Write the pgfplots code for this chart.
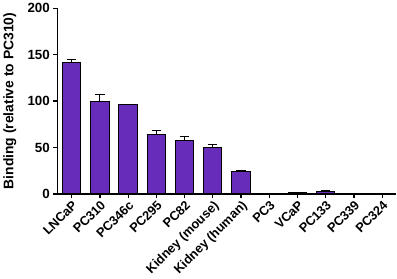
\documentclass[border=0pt]{standalone}
\usepackage{pgfplots}
\pgfplotsset{compat=1.18}
\usepackage{fontspec}
\setmainfont{Liberation Sans}
\definecolor{barpurple}{RGB}{104,44,186}
\begin{document}
\begin{tikzpicture}
\begin{axis}[
  scale only axis,
  width=330pt, height=181pt,
  xmin=-0.5, xmax=11.5,
  ymin=0, ymax=200,
  axis x line*=bottom, axis y line*=left,
  axis line style={line width=1.4pt},
  ytick={0,50,100,150,200},
  xtick={0,...,11},
  xticklabels={LNCaP,PC310,PC346c,PC295,PC82,Kidney (mouse),Kidney (human),PC3,VCaP,PC133,PC339,PC324},
  x tick label style={rotate=45, anchor=north east, font=\bfseries\fontsize{12.5}{14}\selectfont, inner sep=1pt},
  y tick label style={font=\bfseries\fontsize{13}{15}\selectfont},
  /pgf/number format/assume math mode=true,
  tick align=outside,
  major tick length=4pt,
  tick style={line width=1.2pt, black},
  ylabel={\bfseries Binding (relative to PC310)},
  ylabel style={font=\bfseries\fontsize{13.5}{15}\selectfont, yshift=4pt},
  ybar, bar width=0.65,
]
\addplot[fill=barpurple, draw=black, line width=1pt,
  error bars/.cd, y dir=plus, y explicit,
  error bar style={line width=1.1pt, black},
  error mark options={rotate=90, mark size=4.5pt, line width=1.1pt, black}]
coordinates {
 (0,141) +- (0,4)
 (1,100) +- (0,7)
 (2,96) +- (0,0.5)
 (3,64) +- (0,4)
 (4,57.5) +- (0,4.5)
 (5,49.5) +- (0,4)
 (6,24.5) +- (0,0.3)
 (7,0.3) +- (0,0.2)
 (8,1) +- (0,0.5)
 (9,3) +- (0,0.8)
 (10,0.1) +- (0,0)
 (11,0.1) +- (0,0)
};
\end{axis}
\end{tikzpicture}
\end{document}
